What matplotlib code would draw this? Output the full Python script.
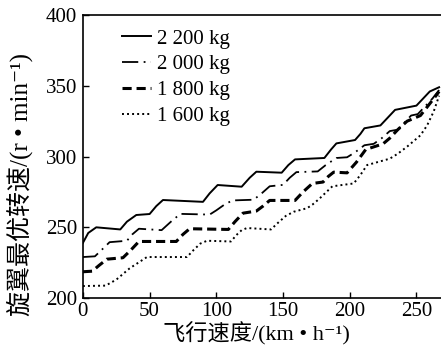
import matplotlib
matplotlib.use("Agg")
import matplotlib.pyplot as plt

# (speed km/h, rotor speed r/min)
x_2200 = [0, 4, 10, 28, 33, 40, 50, 55, 60, 90, 95, 101, 119, 125, 130, 149, 154, 159, 181, 186,
          190, 204, 208, 211, 223, 229, 234, 250, 255, 260, 267]
y_2200 = [239, 246, 250, 248.5, 254, 258.7, 259.4, 265, 269.3, 268, 274, 279.9, 278.7, 285, 289.3,
          288.6, 294, 298, 299, 305, 309.3, 311.7, 316, 320, 322, 328, 333, 336, 341, 346, 349]

x_2000 = [0, 9, 14, 20, 33, 37, 42, 59, 66, 73, 95, 100, 106, 112, 128, 134, 140, 150, 155, 160,
          176, 182, 190, 198, 204, 211, 218, 224, 230, 236, 241, 246, 251, 256, 262, 267]
y_2000 = [229, 229.5, 234, 239.5, 240.5, 245, 249, 248, 254, 259.5, 259, 262, 266, 269, 269.5, 274,
          279, 280, 285, 289, 289.5, 294, 299, 299.5, 303, 308, 309, 313, 318, 319, 324, 329, 330,
          335, 341, 347]

x_1800 = [0, 7, 12, 18, 30, 36, 42, 70, 75, 80, 109, 114, 120, 130, 135, 140, 159, 165, 172, 180,
          184, 188, 198, 205, 212, 225, 230, 236, 243, 253, 258, 263, 267]
y_1800 = [218.6, 219, 223, 227.5, 228.5, 234, 240, 240, 245, 249, 248.5, 254, 260, 261.5, 265,
          269, 269, 275, 281, 282, 286, 289, 288.5, 296, 305, 309, 313, 319, 325, 329, 335, 341, 346]

x_1600 = [0, 17, 25, 35, 48, 78, 83, 88, 93, 111, 115, 119, 123, 141, 146, 152, 158, 168, 172,
          177, 187, 203, 208, 213, 230, 236, 243, 253, 258, 263, 267]
y_1600 = [208.5, 208.8, 213, 221, 229, 229, 234, 238.5, 240.5, 240, 244.5, 248, 249.5, 248.5,
          253, 258, 261, 263.5, 266, 270, 279, 281, 287, 294, 298.5, 302, 307, 315, 322, 332, 343]

labels = ["2 200 kg", "2 000 kg", "1 800 kg", "1 600 kg"]
x_ticks = [0, 50, 100, 150, 200, 250]
y_ticks = [200, 250, 300, 350, 400]

plt.rcParams['font.family'] = ['Liberation Serif', 'Noto Sans CJK SC', 'DejaVu Sans']
plt.rcParams['font.size'] = 15

fig = plt.figure(figsize=(4.41, 3.47), dpi=100)
ax = fig.add_axes([0.188, 0.141, 0.8168, 0.8156])

ax.plot(x_2200, y_2200, color='black', lw=1.4, ls='-', label=labels[0])
ax.plot(x_2000, y_2000, color='black', lw=1.3, ls=(0, (9, 3, 1, 3)), label=labels[1])
ax.plot(x_1800, y_1800, color='black', lw=2.2, ls=(0, (3, 1.6)), label=labels[2])
ax.plot(x_1600, y_1600, color='black', lw=1.4, ls=(0, (1, 1.6)), label=labels[3])

ax.set_xlim(0, 270)
ax.set_ylim(200, 400)
ax.set_xticks(x_ticks)
ax.set_yticks(y_ticks)
ax.tick_params(direction='in', length=4, width=1, top=False, right=False)
ax.tick_params(axis='x', pad=3)
ax.tick_params(axis='y', pad=4)
for s in ['left', 'bottom', 'top']:
    ax.spines[s].set_linewidth(1.2)
ax.spines['right'].set_visible(False)

ax.set_xlabel("飞行速度/(km • h⁻¹)", fontsize=16)
ax.xaxis.set_label_coords(0.483, -0.085)
ax.set_ylabel("旋翼最优转速/(r • min⁻¹)", fontsize=18)
ax.yaxis.set_label_coords(-0.139, 0.4)

leg = ax.legend(loc='upper left', frameon=False, handlelength=1.4, handletextpad=0.25,
                labelspacing=0.3, borderaxespad=0, bbox_to_anchor=(0.086, 0.98))

fig.savefig("out.png", dpi=100)
